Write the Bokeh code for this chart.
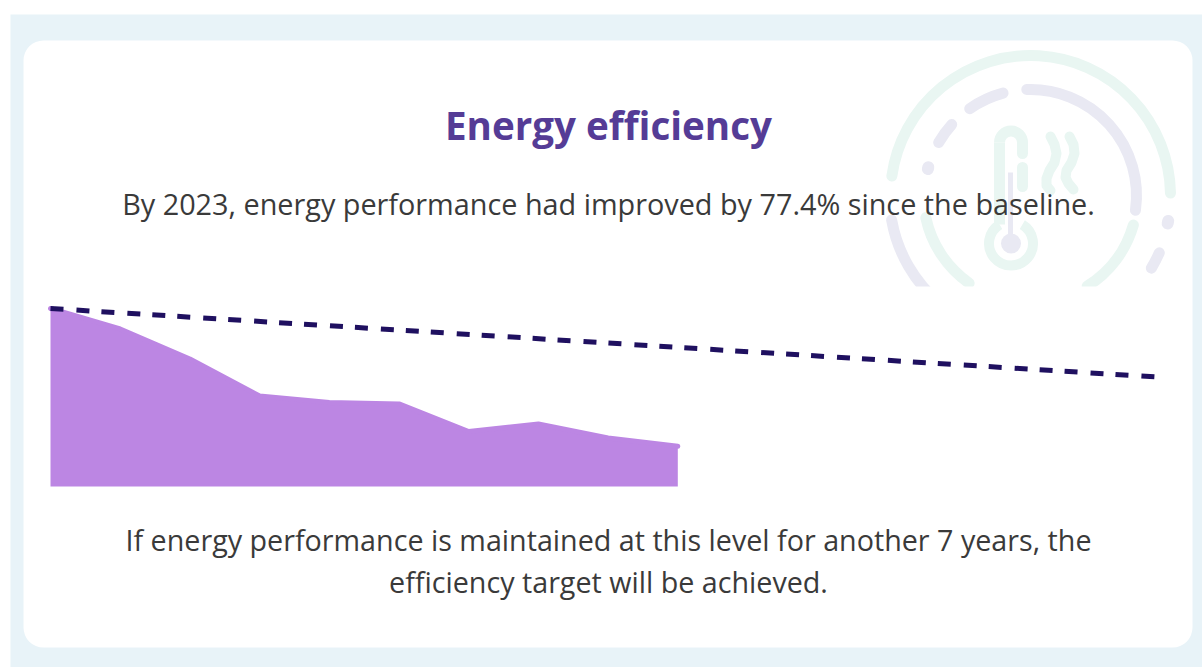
import math
from bokeh.embed import file_html
from bokeh.resources import INLINE
from bokeh.plotting import figure
from bokeh.models import Range1d, BoxAnnotation
from bokeh.core.properties import value

years = [2014, 2015, 2016, 2017, 2018, 2019, 2020, 2021, 2022, 2023]
performance = [100, 88.5, 71.6, 50.8, 47.2, 46.4, 30.9, 35.1, 27.3, 22.6]
target_years = [2014, 2030]
target_values = [100, 61.2]
title_text = "Energy efficiency"
intro_text = "By 2023, energy performance had improved by 77.4% since the baseline."
outro_lines = ["If energy performance is maintained at this level for another 7 years, the",
               "efficiency target will be achieved."]

W, H = 1202, 667
X0, Y0 = 0, 0
px_per_year = 69.7
px_per_unit = 1.78
x_zero, y_zero = 50, 486

p = figure(width=W, height=H, output_backend="svg", toolbar_location=None,
           min_border=0, outline_line_color=None,
           x_range=Range1d(2014 + (X0 - x_zero) / px_per_year, 2014 + (X0 + W - x_zero) / px_per_year),
           y_range=Range1d((y_zero - Y0 - H) / px_per_unit, (y_zero - Y0) / px_per_unit),
           background_fill_color="white", border_fill_color="white")
p.axis.visible = False
p.grid.visible = False
p.extra_x_ranges["px"] = Range1d(X0, X0 + W)
p.extra_y_ranges["px"] = Range1d(Y0 + H, Y0)
PX = dict(x_range_name="px", y_range_name="px")

BLUE = "#e8f3f8"
GREEN = "#e9f6f2"
LAV = "#e9e9f3"

p.add_layout(BoxAnnotation(left=10, right=X0 + W, top=14, bottom=Y0 + H, fill_color=BLUE, fill_alpha=1,
                           line_color=None, level="underlay", **PX))
p.add_layout(BoxAnnotation(left=23, right=1192, top=40, bottom=647, fill_color="white", fill_alpha=1,
                           line_color=None, level="underlay", border_radius=20, **PX))

# watermark icon
cx, cy = 1030, 195
def arc(r, a0, a1, color, w=11):
    # a0..a1 run clockwise on screen from 3 o'clock
    p.arc(x=[cx], y=[cy], radius=[r], start_angle=[math.radians(-a1)], end_angle=[math.radians(-a0)],
          direction="anticlock", line_color=color, line_width=w, line_cap="round", **PX)

arc(140, 188, 359, GREEN)
arc(141, 130, 170, LAV)
arc(106, 268, 368, LAV)
arc(106, 235, 255, LAV)
arc(106, 210, 222, LAV)
arc(106, 194.5, 195.5, LAV, 12)
arc(107, 16, 58, GREEN)
arc(107, 125, 168, GREEN)
arc(140, 10.5, 11.5, LAV, 12)
arc(141, 24, 31, LAV)
WAVE = dict(line_color=GREEN, line_width=10, line_cap="round", line_join="round")
p.arc(x=[1010.5], y=[142], radius=[11.5], start_angle=[0], end_angle=[math.pi],
      direction="anticlock", line_color=GREEN, line_width=11, **PX)
p.line([999, 999], [142, 224], line_color=GREEN, line_width=11, **PX)
p.line([1022, 1022], [142, 153], line_color=GREEN, line_width=11, line_cap="round", **PX)
p.line([1022, 1022], [167, 186], line_color=GREEN, line_width=11, line_cap="round", **PX)
p.arc(x=[1010.5], y=[243], radius=[22], start_angle=[math.radians(121)], end_angle=[math.radians(419)],
      direction="anticlock", line_color=GREEN, line_width=10, **PX)
p.line([1010, 1010], [172, 240], line_color=LAV, line_width=5, **PX)
p.scatter(x=[1010.5], y=[243], size=20, fill_color=LAV, line_color=None, marker="circle", **PX)
p.line([1050, 1054, 1056, 1054, 1049, 1046, 1046, 1050], [136, 144, 153, 162, 170, 178, 185, 190], **WAVE, **PX)
p.line([1069, 1073, 1074, 1071, 1066, 1065, 1068, 1073], [136, 144, 153, 162, 170, 177, 183, 189], **WAVE, **PX)
p.quad(left=[870], right=[1185], top=[286], bottom=[345], fill_color="white", line_color=None, **PX)

# chart
PURPLE = "#bc86e3"
p.varea(x=years, y1=[0] * len(years), y2=performance, fill_color=PURPLE)
p.line(years, performance, line_color=PURPLE, line_width=5, line_cap="round")
p.line(target_years, target_values, line_color="#1f1060", line_width=5, line_dash="13 13 13 12 13 13 13 12 13 12")

FONT = value("Open Sans")
TXT = "#3a3a3a"
p.text(x=[608], y=[124], text=[title_text], text_font=FONT, text_font_size="38.6px", text_font_style="bold",
       text_color="#553c96", text_align="center", text_baseline="middle", **PX)
p.text(x=[608], y=[203], text=[intro_text], text_font=FONT, text_font_size="28.8px",
       text_color=TXT, text_align="center", text_baseline="middle", **PX)
p.text(x=[608, 608], y=[539, 581], text=outro_lines, text_font=FONT, text_font_size="28.7px",
       text_color=TXT, text_align="center", text_baseline="middle", **PX)

open("out.html", "w").write(file_html(p, INLINE))
